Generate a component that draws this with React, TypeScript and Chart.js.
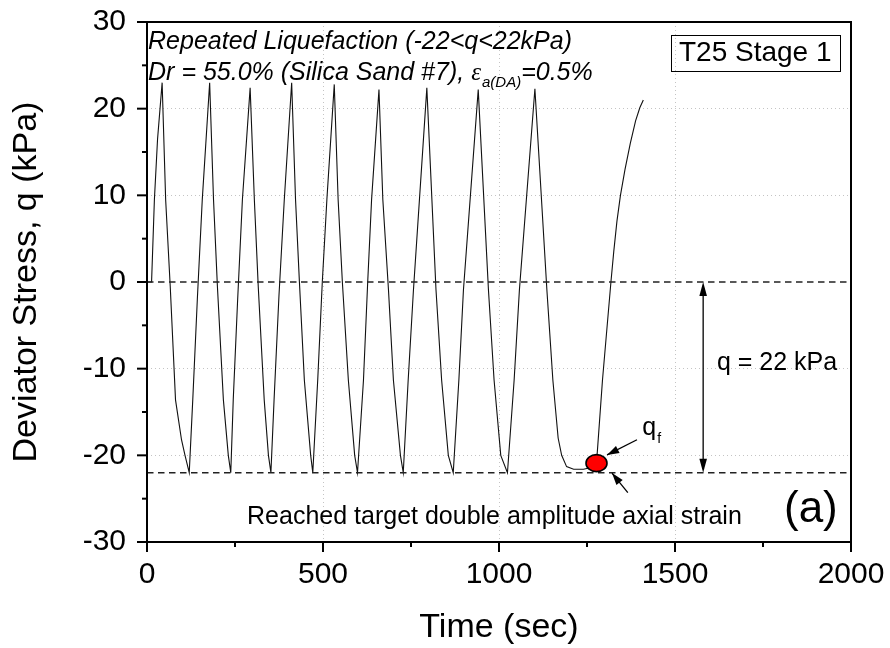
import React, { useEffect, useRef } from 'react';
import { Chart, registerables } from 'chart.js';

Chart.register(...registerables);

// ---- data ----
const timeSec = [
  0, 13, 21, 30, 43, 53, 66, 81, 98, 108, 120,
  130, 143, 157, 178, 189, 200, 217, 231, 238,
  245, 257, 271, 293, 305, 316, 333, 345, 352,
  361, 375, 390, 411, 422, 433, 447, 465, 471,
  485, 498, 511, 532, 543, 555, 572, 590, 598,
  615, 627, 638, 659, 670, 686, 700, 720, 728,
  742, 757, 795, 821, 837, 856, 870,
  886, 899, 941, 970, 986, 1005, 1024,
  1043, 1058, 1102, 1136, 1153, 1168, 1178,
  1192, 1212, 1240, 1262, 1277, 1294, 1318, 1326, 1335, 1345, 1358, 1373, 1388, 1400, 1410,
];
const deviatorStress = [
  0, 0, 9.5, 16.5, 23.0, 9.5, -0.5, -13.6, -18.2, -20.0, -22.0,
  -13.6, -2.0, 9.5, 23.0, 9.5, -0.5, -13.6, -20.0, -22.0,
  -13.6, -2.5, 9.5, 22.4, 9.5, -0.5, -13.6, -20.0, -22.0,
  -13.6, -1.5, 9.5, 23.0, 9.5, 0.0, -11.3, -20.0, -22.0,
  -11.3, 0.0, 9.5, 22.8, 9.5, 0.0, -11.3, -20.0, -22.0,
  -11.3, 0.0, 9.5, 22.2, 9.5, -0.9, -11.3, -20.0, -22.0,
  -11.3, -0.9, 22.4, -0.9, -11.3, -20.0, -22.0,
  -11.3, -0.9, 22.2, -0.9, -11.3, -20.0, -22.0,
  -11.3, -0.9, 22.3, -0.9, -11.3, -18.0, -20.0,
  -21.3, -21.6, -21.6, -21.4, -20.9, -11.3, 0.0, 3.5, 7.0, 10.0, 13.0, 16.0, 18.6, 20.1, 21.0,
];
const referenceLevels = [0, -22];
const xTicks = [0, 500, 1000, 1500, 2000];
const yTicks = [-30, -20, -10, 0, 10, 20, 30];
const qfTime = 1277;
const qfStress = -20.9;
const amplitudeArrowTime = 1580;
const titleLine1 = 'Repeated Liquefaction (-22<q<22kPa)';
const titleLine2a = 'Dr = 55.0% (Silica Sand #7), ';
const titleLine2eps = 'ε';
const titleLine2sub = 'a(DA)';
const titleLine2b = '=0.5%';
const testLabel = 'T25 Stage 1';
const amplitudeLabel = 'q = 22 kPa';
const reachedLabel = 'Reached target double amplitude axial strain';
const panelLabel = '(a)';
const xTitle = 'Time (sec)';
const yTitle = 'Deviator Stress, q (kPa)';

const SANS = '"Liberation Sans", Arial, sans-serif';

function arrowHead(ctx: CanvasRenderingContext2D, x1: number, y1: number, x2: number, y2: number, len = 13, half = 4) {
  const ang = Math.atan2(y2 - y1, x2 - x1);
  ctx.beginPath();
  ctx.moveTo(x2, y2);
  ctx.lineTo(x2 - len * Math.cos(ang) + half * Math.sin(ang), y2 - len * Math.sin(ang) - half * Math.cos(ang));
  ctx.lineTo(x2 - len * Math.cos(ang) - half * Math.sin(ang), y2 - len * Math.sin(ang) + half * Math.cos(ang));
  ctx.closePath();
  ctx.fill();
}

function arrow(ctx: CanvasRenderingContext2D, x1: number, y1: number, x2: number, y2: number, len = 12, half = 4) {
  ctx.beginPath();
  ctx.moveTo(x1, y1);
  ctx.lineTo(x2, y2);
  ctx.stroke();
  arrowHead(ctx, x1, y1, x2, y2, len, half);
}

const annotations = {
  id: 'annotations',
  afterDraw(chart: any) {
    const { ctx, chartArea: a, scales } = chart;
    const px = (v: number) => scales.x.getPixelForValue(v);
    const py = (v: number) => scales.y.getPixelForValue(v);
    ctx.save();

    // frame
    ctx.strokeStyle = '#000';
    ctx.lineWidth = 2;
    ctx.strokeRect(a.left, a.top, a.right - a.left, a.bottom - a.top);

    // ticks (major + minor, outward) and tick labels
    const seg = (x1: number, y1: number, x2: number, y2: number) => {
      ctx.beginPath(); ctx.moveTo(x1, y1); ctx.lineTo(x2, y2); ctx.stroke();
    };
    ctx.fillStyle = '#000';
    ctx.font = `30px ${SANS}`;
    ctx.textBaseline = 'middle';
    ctx.textAlign = 'right';
    yTicks.forEach((v, i) => {
      const y = py(v);
      seg(a.left - 10, y, a.left, y);
      ctx.fillText(String(v), a.left - 21, y);
      if (i < yTicks.length - 1) {
        const ym = py((v + yTicks[i + 1]) / 2);
        seg(a.left - 5, ym, a.left, ym);
      }
    });
    ctx.textAlign = 'center';
    xTicks.forEach((v, i) => {
      const x = px(v);
      seg(x, a.bottom, x, a.bottom + 10);
      ctx.fillText(String(v), x, a.bottom + 33);
      if (i < xTicks.length - 1) {
        const xm = px((v + xTicks[i + 1]) / 2);
        seg(xm, a.bottom, xm, a.bottom + 5);
      }
    });

    // axis titles
    ctx.font = `34px ${SANS}`;
    ctx.fillText(xTitle, (a.left + a.right) / 2, a.bottom + 86);
    ctx.save();
    ctx.translate(27, (a.top + a.bottom) / 2);
    ctx.rotate(-Math.PI / 2);
    ctx.fillText(yTitle, 0, 0);
    ctx.restore();

    // title lines (italic)
    ctx.textAlign = 'left';
    ctx.font = `italic 25px ${SANS}`;
    const tx = px(3);
    ctx.fillText(titleLine1, tx, py(27.7));
    const y2 = py(24.1);
    ctx.fillText(titleLine2a, tx, y2);
    let cx = tx + ctx.measureText(titleLine2a).width;
    ctx.font = `italic 25px "Liberation Serif", "DejaVu Serif", serif`;
    ctx.fillText(titleLine2eps, cx, y2);
    cx += ctx.measureText(titleLine2eps).width + 1;
    ctx.font = `italic 15px ${SANS}`;
    ctx.fillText(titleLine2sub, cx, y2 + 10);
    cx += ctx.measureText(titleLine2sub).width;
    ctx.font = `italic 25px ${SANS}`;
    ctx.fillText(titleLine2b, cx, y2);

    // test label box
    ctx.font = `28px ${SANS}`;
    ctx.textAlign = 'center';
    const bx = px(1728), by = py(26.4);
    const bw = ctx.measureText(testLabel).width + 16;
    ctx.fillText(testLabel, bx, by);
    ctx.lineWidth = 1;
    ctx.strokeRect(Math.round(bx - bw / 2) + 0.5, Math.round(by - 18) + 0.5, Math.round(bw), 36);

    // amplitude double arrow
    ctx.lineWidth = 1.3;
    const ax = px(amplitudeArrowTime);
    const yTop = py(referenceLevels[0]);
    const yBot = py(referenceLevels[1]);
    ctx.beginPath(); ctx.moveTo(ax, yTop + 4); ctx.lineTo(ax, yBot - 4); ctx.stroke();
    arrowHead(ctx, ax, yBot, ax, yTop, 14, 3.8);
    arrowHead(ctx, ax, yTop, ax, yBot, 14, 3.8);
    ctx.font = `25px ${SANS}`;
    ctx.textAlign = 'center';
    ctx.fillText(amplitudeLabel, px(1790), py(-9.35));

    // q_f label and arrows
    ctx.textAlign = 'left';
    ctx.font = `25px ${SANS}`;
    const qx = px(1407);
    ctx.fillText('q', qx, py(-16.9));
    const qw = ctx.measureText('q').width;
    ctx.font = `14px ${SANS}`;
    ctx.fillText('f', qx + qw + 1, py(-18.1));
    ctx.lineWidth = 1.3;
    arrow(ctx, px(1392), py(-18.2), px(1307), py(-19.95), 12, 4);
    arrow(ctx, px(1366), py(-24.3), px(1321), py(-22.05), 12, 4);

    // reached label + panel
    ctx.font = `25px ${SANS}`;
    ctx.textAlign = 'center';
    ctx.fillText(reachedLabel, px(987), py(-27.1));
    ctx.font = `44px ${SANS}`;
    ctx.fillText(panelLabel, px(1886), py(-26.3));

    // q_f marker
    ctx.beginPath();
    ctx.ellipse(px(qfTime), py(qfStress), 10.5, 8.5, 0, 0, Math.PI * 2);
    ctx.fillStyle = '#ff0000';
    ctx.fill();
    ctx.lineWidth = 1.6;
    ctx.strokeStyle = '#000';
    ctx.stroke();

    ctx.restore();
  },
};

export default function App() {
  const ref = useRef<HTMLCanvasElement | null>(null);
  useEffect(() => {
    if (!ref.current) return;
    const curve = timeSec.map((t, i) => ({ x: t, y: deviatorStress[i] }));
    const refSets = referenceLevels.map((lvl) => ({
      data: [{ x: xTicks[0], y: lvl }, { x: xTicks[xTicks.length - 1], y: lvl }],
      showLine: true,
      borderColor: '#222',
      borderWidth: 1.5,
      borderDash: [6.5, 4.5],
      pointRadius: 0,
    }));
    const chart = new Chart(ref.current, {
      type: 'scatter',
      data: {
        datasets: [
          ...refSets,
          {
            data: curve,
            showLine: true,
            borderColor: '#111',
            borderWidth: 1.1,
            pointRadius: 0,
            tension: 0,
          },
        ],
      },
      options: {
        responsive: false,
        animation: false,
        devicePixelRatio: 1,
        layout: { padding: { top: 22, right: 39, left: 0, bottom: 0 } },
        plugins: { legend: { display: false }, tooltip: { enabled: false } },
        scales: {
          x: {
            type: 'linear',
            min: xTicks[0],
            max: xTicks[xTicks.length - 1],
            afterBuildTicks: (s: any) => { s.ticks = xTicks.map((v) => ({ value: v })); },
            afterFit: (s: any) => { s.height = 106; },
            ticks: { display: false },
            grid: {
              drawTicks: false,
              color: (c: any) => (c.tick && (c.tick.value === xTicks[0] || c.tick.value === xTicks[xTicks.length - 1]) ? 'rgba(0,0,0,0)' : '#c4c4c4'),
              lineWidth: 1,
            },
            border: { display: false, dash: [1, 3] },
            title: { display: false },
          },
          y: {
            type: 'linear',
            min: yTicks[0],
            max: yTicks[yTicks.length - 1],
            afterBuildTicks: (s: any) => { s.ticks = yTicks.map((v) => ({ value: v })); },
            afterFit: (s: any) => { s.width = 147; },
            ticks: { display: false },
            grid: {
              drawTicks: false,
              color: (c: any) => (c.tick && (c.tick.value === 0 || c.tick.value === yTicks[0] || c.tick.value === yTicks[yTicks.length - 1]) ? 'rgba(0,0,0,0)' : '#c4c4c4'),
              lineWidth: 1,
            },
            border: { display: false, dash: [1, 3] },
            title: { display: false },
          },
        },
      } as any,
      plugins: [annotations],
    });
    return () => chart.destroy();
  }, []);
  return (
    <div style={{ position: 'absolute', left: 0, top: 0, width: 890, height: 648, background: '#fff' }}>
      <canvas ref={ref} width={890} height={648} style={{ display: 'block' }} />
    </div>
  );
}
